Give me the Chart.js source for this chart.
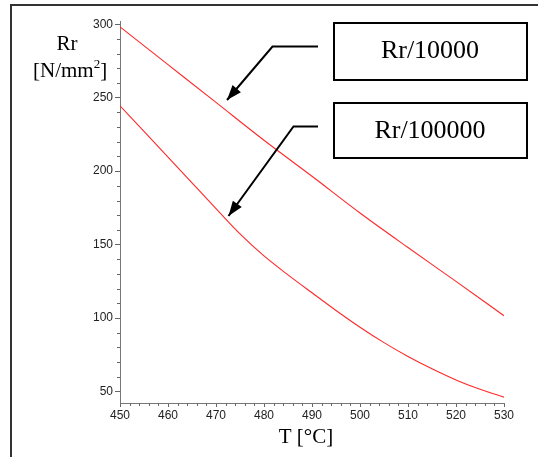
<!DOCTYPE html>
<html>
<head>
<meta charset="utf-8">
<script src="https://cdn.jsdelivr.net/npm/chart.js@4.4.1/dist/chart.umd.min.js"></script>
<style>
  html, body { margin: 0; padding: 0; background: #fff; }
  #wrap { width: 538px; height: 457px; }
</style>
</head>
<body>
<div id="wrap"><canvas id="myChart" width="538" height="457"></canvas></div>
<script>
// rupture strength vs temperature
var tempUpper = [450, 460, 470, 480, 490, 500, 510, 520, 530];
var rr10000 = [298.2, 272.5, 246.8, 221, 196.5, 171.5, 148, 125, 101.6];

var tempLower = [450, 455, 460, 465, 470, 475, 480, 485, 490, 495, 500, 505, 510, 515, 520, 525, 530];
var rr100000 = [244.5, 227, 209.5, 192, 174.5, 157.3, 142.3, 129.4, 117.2, 105.2, 93.8, 83.3, 73.9, 65.5, 57.9, 51.5, 46.2];

var yTicks = [50, 100, 150, 200, 250, 300];
var seriesLabels = ['Rr/10000', 'Rr/100000'];

function pairs(xs, ys) {
    return xs.map(function (x, i) { return { x: x, y: ys[i] }; });
}

var serif = '"Liberation Serif", "Times New Roman", serif';

// frame, callout boxes, arrows, axis titles, minor ticks
var overlay = {
    id: 'overlay',
    beforeDraw: function (chart) {
        var ctx = chart.ctx;
        ctx.save();
        ctx.fillStyle = '#fff';
        ctx.fillRect(0, 0, chart.width, chart.height);
        ctx.restore();
    },
    afterDraw: function (chart) {
        var ctx = chart.ctx;
        var xs = chart.scales.x, ys = chart.scales.y;
        ctx.save();

        // minor ticks
        ctx.strokeStyle = '#666';
        ctx.lineWidth = 1;
        ctx.beginPath();
        for (var v = 50; v < 300; v += 10) {
            if (v % 50 === 0) continue;
            var py = Math.round(ys.getPixelForValue(v)) + 0.5;
            ctx.moveTo(xs.left - 3, py);
            ctx.lineTo(xs.left, py);
        }
        for (var t = 452; t < 530; t += 2) {
            if (t % 10 === 0) continue;
            var px = Math.round(xs.getPixelForValue(t)) + 0.5;
            ctx.moveTo(px, ys.bottom);
            ctx.lineTo(px, ys.bottom + 3);
        }
        ctx.stroke();

        // outer frame (top and left)
        ctx.strokeStyle = '#333';
        ctx.lineWidth = 2;
        ctx.beginPath();
        ctx.moveTo(538, 5);
        ctx.lineTo(11, 5);
        ctx.lineTo(11, 457);
        ctx.stroke();

        // callout boxes
        ctx.strokeStyle = '#000';
        ctx.lineWidth = 2;
        ctx.strokeRect(334, 23, 193, 57);
        ctx.strokeRect(334, 103, 193, 55);

        ctx.fillStyle = '#000';
        ctx.font = '26px ' + serif;
        ctx.textAlign = 'center';
        ctx.textBaseline = 'alphabetic';
        ctx.fillText(seriesLabels[0], 430, 58);
        ctx.fillText(seriesLabels[1], 430, 138);

        // arrows to the curves
        function arrow(pts) {
            ctx.beginPath();
            ctx.moveTo(pts[0][0], pts[0][1]);
            for (var i = 1; i < pts.length; i++) ctx.lineTo(pts[i][0], pts[i][1]);
            ctx.stroke();
            var a = pts[pts.length - 2], b = pts[pts.length - 1];
            var ang = Math.atan2(b[1] - a[1], b[0] - a[0]);
            var len = 15, hw = 5.5;
            ctx.beginPath();
            ctx.moveTo(b[0], b[1]);
            ctx.lineTo(b[0] - len * Math.cos(ang) + hw * Math.sin(ang), b[1] - len * Math.sin(ang) - hw * Math.cos(ang));
            ctx.lineTo(b[0] - len * Math.cos(ang) - hw * Math.sin(ang), b[1] - len * Math.sin(ang) + hw * Math.cos(ang));
            ctx.closePath();
            ctx.fill();
        }
        ctx.lineWidth = 2;
        arrow([[318, 46.5], [272.5, 46.5], [227, 100]]);
        arrow([[318, 126.5], [293.5, 126.5], [228.5, 216]]);

        // axis titles
        ctx.font = '21px ' + serif;
        ctx.textAlign = 'center';
        ctx.fillText('Rr', 67, 50);

        ctx.textAlign = 'left';
        var x0 = 33;
        var p1 = '[N/mm';
        ctx.fillText(p1, x0, 77);
        var w1 = ctx.measureText(p1).width;
        ctx.font = '13px ' + serif;
        ctx.fillText('2', x0 + w1, 68);
        var w2 = ctx.measureText('2').width;
        ctx.font = '21px ' + serif;
        ctx.fillText(']', x0 + w1 + w2, 77);

        ctx.textAlign = 'center';
        ctx.fillText('T [°C]', 306, 443);

        ctx.restore();
    }
};

var config = {
    type: 'line',
    data: {
        datasets: [{
            label: seriesLabels[0],
            data: pairs(tempUpper, rr10000),
            borderColor: 'rgb(255, 40, 40)',
            borderWidth: 1.1,
            pointRadius: 0,
            cubicInterpolationMode: 'monotone',
            fill: false
        }, {
            label: seriesLabels[1],
            data: pairs(tempLower, rr100000),
            borderColor: 'rgb(255, 40, 40)',
            borderWidth: 1.1,
            pointRadius: 0,
            cubicInterpolationMode: 'monotone',
            fill: false
        }]
    },
    options: {
        responsive: false,
        animation: false,
        events: [],
        layout: { padding: { top: 21, right: 34, left: 0, bottom: 0 } },
        plugins: {
            legend: { display: false },
            tooltip: { enabled: false }
        },
        scales: {
            x: {
                type: 'linear',
                min: 450,
                max: 530,
                ticks: {
                    stepSize: 10,
                    padding: 1,
                    color: '#222',
                    font: { family: '"Liberation Sans", Arial, sans-serif', size: 12 }
                },
                grid: { drawOnChartArea: false, drawTicks: true, tickLength: 4, color: '#666' },
                border: { display: true, color: '#777', width: 1 },
                afterFit: function (s) { s.height = 54; }
            },
            y: {
                type: 'linear',
                min: 42.2,
                max: 302.2,
                afterBuildTicks: function (s) {
                    s.ticks = yTicks.map(function (v) { return { value: v }; });
                },
                ticks: {
                    padding: 2,
                    color: '#222',
                    font: { family: '"Liberation Sans", Arial, sans-serif', size: 12 }
                },
                grid: { drawOnChartArea: false, drawTicks: true, tickLength: 5, color: '#666' },
                border: { display: true, color: '#777', width: 1 },
                afterFit: function (s) { s.width = 120; }
            }
        }
    },
    plugins: [overlay]
};

var ctx = document.getElementById('myChart').getContext('2d');
var myChart = new Chart(ctx, config);
</script>
</body>
</html>
